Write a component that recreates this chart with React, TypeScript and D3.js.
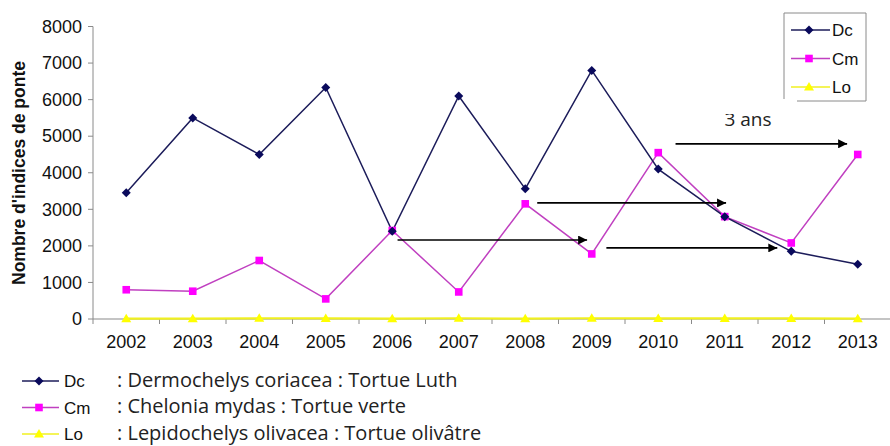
import React from "react";
import * as d3 from "d3";

const years = [2002, 2003, 2004, 2005, 2006, 2007, 2008, 2009, 2010, 2011, 2012, 2013];
const dcValues = [3450, 5500, 4500, 6330, 2400, 6100, 3560, 6800, 4100, 2800, 1850, 1500];
const cmValues = [800, 760, 1600, 550, 2420, 740, 3150, 1780, 4550, 2800, 2080, 4500];
const loValues = [10, 10, 20, 15, 10, 20, 10, 20, 15, 15, 15, 10];
const yTicks = [0, 1000, 2000, 3000, 4000, 5000, 6000, 7000, 8000];

const seriesNames = ["Dc", "Cm", "Lo"];
const seriesDescriptions = [
  ": Dermochelys coriacea : Tortue Luth",
  ": Chelonia mydas : Tortue verte",
  ": Lepidochelys olivacea : Tortue olivâtre",
];
// arrows: [startYear, endYear, value]
const arrowStarts = [2006.08, 2008.18, 2009.22, 2010.26];
const arrowEnds = [2008.93, 2011.02, 2011.79, 2012.84];
const arrowValues = [2160, 3175, 1945, 4790];
const noteText = "3 ans";
const noteYear = 2011.35;
const noteValue = 5270;

const W = 890;
const H = 446;
const left = 93;
const right = 891;
const top = 26.5;
const bottom = 319;

const colors = ["#0a0a5c", "#ff00ff", "#ffff00"];
const lineColors = ["#1c1c5a", "#c040c0", "#f0f020"];

function Marker({ kind, x, y }: { kind: number; x: number; y: number }) {
  if (kind === 0) {
    const s = 4.5;
    return (
      <path
        d={`M${x},${y - s}L${x + s},${y}L${x},${y + s}L${x - s},${y}Z`}
        fill={colors[0]}
      />
    );
  }
  if (kind === 1) {
    return <rect x={x - 3.8} y={y - 3.8} width={7.6} height={7.6} fill={colors[1]} />;
  }
  const s = 5;
  return (
    <path
      d={`M${x},${y - s}L${x + s},${y + s * 0.7}L${x - s},${y + s * 0.7}Z`}
      fill={colors[2]}
    />
  );
}

export default function App() {
  const x = d3.scaleBand<number>().domain(years).range([left, right]).padding(0);
  const bw = x.bandwidth();
  const xc = (yr: number) => (x(yr) as number) + bw / 2;
  const xLin = d3
    .scaleLinear()
    .domain([years[0], years[years.length - 1]])
    .range([xc(years[0]), xc(years[years.length - 1])]);
  const y = d3.scaleLinear().domain([0, 8000]).range([bottom, top]);

  const allSeries = [dcValues, cmValues, loValues];
  const line = d3
    .line<number>()
    .x((_, i) => xc(years[i]))
    .y((v) => y(v));

  const axisColor = "#8a8a8a";
  const arial = "'Liberation Sans', Arial, sans-serif";
  const opens = "'Open Sans', 'Noto Sans', sans-serif";

  return (
    <svg
      width={W}
      height={H}
      style={{ position: "absolute", left: 0, top: 0, background: "#fff" }}
      fontFamily={arial}
    >
      <defs>
        <marker
          id="arrowhead"
          viewBox="0 0 10 10"
          refX={10}
          refY={5}
          markerWidth={11}
          markerHeight={9}
          markerUnits="userSpaceOnUse"
          orient="auto"
        >
          <path d="M0,0L10,5L0,10Z" fill="#000" />
        </marker>
        <clipPath id="noteclip">
          <rect x={700} y={114} width={120} height={30} />
        </clipPath>
      </defs>
      <rect x={0} y={0} width={W} height={H} fill="#fff" />

      {/* y axis */}
      <line x1={left} x2={left} y1={top} y2={bottom} stroke={axisColor} strokeWidth={1} />
      {yTicks.map((t) => (
        <g key={t}>
          <line x1={left - 5} x2={left} y1={y(t)} y2={y(t)} stroke={axisColor} />
          <text x={left - 11} y={y(t)} dy="0.35em" textAnchor="end" fontSize={18} fill="#111">
            {t}
          </text>
        </g>
      ))}
      <text
        transform={`translate(25,173) rotate(-90)`}
        textAnchor="middle"
        fontSize={17.5}
        fontWeight="bold"
        fill="#111"
      >
        Nombre d'indices de ponte
      </text>

      {/* x axis */}
      <line x1={left} x2={right} y1={bottom} y2={bottom} stroke={axisColor} strokeWidth={1.2} />
      {years.map((yr) => (
        <g key={yr}>
          <line
            x1={x(yr) as number}
            x2={x(yr) as number}
            y1={bottom}
            y2={bottom + 5}
            stroke={axisColor}
          />
          <text x={xc(yr)} y={bottom + 29} textAnchor="middle" fontSize={18} fill="#111">
            {yr}
          </text>
        </g>
      ))}

      {/* series lines */}
      {[2, 1, 0].map((k) => (
        <path
          key={k}
          d={line(allSeries[k]) as string}
          fill="none"
          stroke={lineColors[k]}
          strokeWidth={k === 2 ? 2.2 : 1.5}
        />
      ))}
      {[2, 1, 0].map((k) =>
        allSeries[k].map((v, i) => <Marker key={`${k}-${i}`} kind={k} x={xc(years[i])} y={y(v)} />)
      )}

      {/* arrows */}
      {arrowStarts.map((s, i) => (
        <line
          key={i}
          x1={xLin(s)}
          x2={xLin(arrowEnds[i])}
          y1={y(arrowValues[i])}
          y2={y(arrowValues[i])}
          stroke="#000"
          strokeWidth={1.6}
          markerEnd="url(#arrowhead)"
        />
      ))}
      <text
        x={xLin(noteYear)}
        y={y(noteValue)}
        textAnchor="middle"
        fontSize={19}
        fontFamily={opens}
        fill="#222"
        clipPath="url(#noteclip)"
      >
        {noteText}
      </text>

      {/* legend box */}
      <g>
        <line x1={784} x2={784} y1={13} y2={99} stroke={axisColor} />
        <line x1={784} x2={866} y1={13} y2={13} stroke={axisColor} />
        <line x1={866} x2={866} y1={13} y2={101} stroke={axisColor} />
        <line x1={797} x2={866} y1={101} y2={101} stroke={axisColor} />
        {seriesNames.map((n, k) => {
          const ly = 30 + k * 28.5;
          return (
            <g key={n}>
              <line x1={791} x2={830} y1={ly} y2={ly} stroke={lineColors[k]} strokeWidth={1.5} />
              <Marker kind={k} x={809} y={ly} />
              <text x={832} y={ly} dy="0.36em" fontSize={17} fill="#111">
                {n}
              </text>
            </g>
          );
        })}
      </g>

      {/* bottom legend */}
      {seriesNames.map((n, k) => {
        const ly = 381 + k * 26.5;
        return (
          <g key={n}>
            <line x1={22} x2={59} y1={ly} y2={ly} stroke={lineColors[k]} strokeWidth={1.5} />
            <Marker kind={k} x={39} y={ly} />
            <text x={64} y={ly} dy="0.38em" fontSize={17} fill="#111">
              {n}
            </text>
            <text x={117} y={ly} dy="0.28em" fontSize={20} fontFamily={opens} fill="#222">
              {seriesDescriptions[k]}
            </text>
          </g>
        );
      })}
    </svg>
  );
}
